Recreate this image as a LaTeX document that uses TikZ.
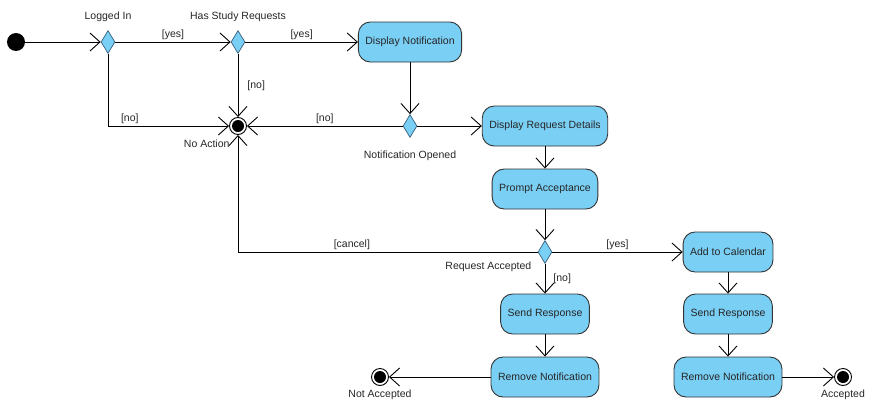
\documentclass[tikz,border=0pt]{standalone}
\usepackage{fontspec}
\setmainfont{Liberation Sans}
\usetikzlibrary{positioning, shapes.geometric, arrows.meta}
\definecolor{actblue}{RGB}{122,207,245}
\definecolor{decedge}{RGB}{55,95,125}
\tikzset{
    every node/.style={font=\fontsize{10.5}{12}\selectfont, text=black!85},
    action/.style={draw=black!80, line width=0.9pt, fill=actblue, rounded corners=12pt, minimum height=40pt, inner xsep=7pt},
    decision/.style={diamond, draw=decedge, line width=0.7pt, fill=actblue, minimum width=14pt, minimum height=23pt, inner sep=0pt},
    initial/.style={circle, fill=black, minimum size=18pt, inner sep=0pt},
    final/.style={circle, draw=black, line width=0.9pt, fill=white, minimum size=17pt, inner sep=0pt,
        path picture={\fill[black] (path picture bounding box.center) circle (6pt);}},
    lbl/.style={inner sep=2pt},
    guard/.style={inner sep=2pt},
    flow/.style={-{Straight Barb[length=10pt, width=18pt]}, line width=0.9pt} }

\begin{document}
\begin{tikzpicture}[node distance=80pt, on grid, x=1pt, y=1pt]
			\useasboundingbox (-16,42) rectangle (861,-376);
			\node[initial] (init) {};
			\node[decision, right = 92pt of init, label={[lbl, label distance=6pt]above:Logged In}] (logged) {};
			\node[decision, right = 130pt of logged, label={[lbl, label distance=6pt]above:Has Study Requests}] (study) {};
			\node[action, right = 172pt of study] (dispnot) {Display Notification};
			\node[final, below = 84pt of study, label={[lbl, yshift=-5pt]below left:No Action}] (noact) {};
			\node[decision, below = 84pt of dispnot, label={[lbl, label distance=11pt]below:Notification Opened}] (opened) {};
			\node[action, right = 135pt of opened] (details) {Display Request Details};
			\node[action, below = 63pt of details] (prompt) {Prompt Acceptance};
			\node[decision, below = 63pt of prompt, label={[lbl, xshift=-7pt, yshift=-3pt]below left:Request Accepted}] (accepted) {};
			\node[action, right = 183pt of accepted] (calendar) {Add to Calendar};
			\node[action, below = 62pt of accepted] (sendL) {Send Response};
			\node[action, below = 63pt of sendL] (removeL) {Remove Notification};
			\node[final, left = 165pt of removeL, label={[lbl, label distance=2pt]below:Not Accepted}] (notacc) {};
			\node[action, below = 62pt of calendar] (sendR) {Send Response};
			\node[action, below = 63pt of sendR] (removeR) {Remove Notification};
			\node[final, right = 115pt of removeR, label={[lbl, label distance=2pt]below:Accepted}] (acc) {};
			% ----
			\draw[flow] (init) -- (logged);
			\draw[flow] (logged) -- node[guard, above] {[yes]} (study);
			\draw[flow] (study) -- node[guard, above] {[yes]} (dispnot);
			\draw[flow] (logged) |- node[guard, above, pos=0.59] {[no]} (noact);
			\draw[flow] (study) -- node[guard, right=7pt] {[no]} (noact);
			% ----
			\draw[flow] (dispnot) -- (opened);
			\draw[flow] (opened) -- node[guard, above] {[no]} (noact);
			\draw[flow] (opened) -- (details);
			\draw[flow] (details) -- (prompt);
			\draw[flow] (prompt) -- (accepted);
			\draw[flow] (accepted) -| node[guard, above, pos=0.31] {[cancel]} (noact);
			% ----
			\draw[flow] (accepted) -- node[guard, above] {[yes]} (calendar);
			\draw[flow] (accepted) -- node[guard, right=6pt] {[no]} (sendL);
			\draw[flow] (sendL) -- (removeL);
			\draw[flow] (removeL) -- (notacc);
			\draw[flow] (calendar) -- (sendR);
			\draw[flow] (sendR) -- (removeR);
			\draw[flow] (removeR) -- (acc);
		\end{tikzpicture}
\end{document}
